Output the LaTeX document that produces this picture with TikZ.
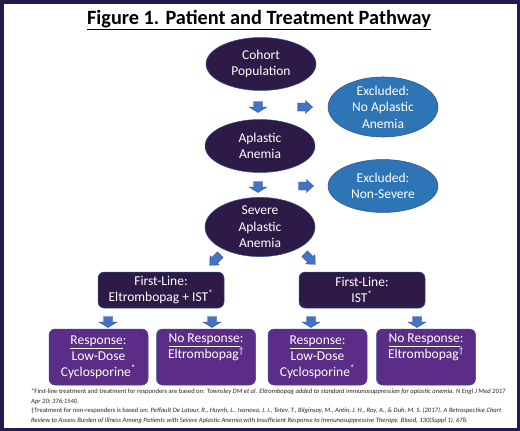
\documentclass[tikz,border=0pt]{standalone}
\usepackage{fontspec}
\setmainfont{Carlito}
\usetikzlibrary{shapes.geometric}

\definecolor{framenavy}{HTML}{221C4E}
\definecolor{darkplum}{HTML}{2E1A47}
\definecolor{midblue}{HTML}{2E75B6}
\definecolor{boxpurple}{HTML}{5B2D86}
\definecolor{arrowblue}{HTML}{4472C4}
\definecolor{edgeblue}{HTML}{2F528F}

\tikzset{
  stage/.style={ellipse, fill=darkplum, draw=edgeblue, line width=0.5pt, text=white,
    minimum width=110, minimum height=53, inner sep=0pt, align=center,
    font=\fontsize{13.5}{16.5}\selectfont},
  excluded/.style={stage, fill=midblue},
  linebox/.style={rectangle, rounded corners=6pt, fill=darkplum, draw=edgeblue, line width=0.5pt,
    text=white, minimum width=126, minimum height=36, inner sep=0pt, align=center,
    font=\fontsize{13.5}{15.5}\selectfont},
  outcome/.style={linebox, fill=boxpurple, minimum width=99, minimum height=56,
    font=\fontsize{13.5}{16}\selectfont},
  downarr/.pic={\fill[arrowblue, draw=edgeblue, line width=0.4pt]
    (-4.5,-5.5) -- (4.5,-5.5) -- (4.5,0) -- (9,0) -- (0,5.5) -- (-9,0) -- (-4.5,0) -- cycle;},
  sidearr/.pic={\fill[arrowblue, draw=edgeblue, line width=0.4pt]
    (-7.5,-4) -- (0.5,-4) -- (0.5,-6.5) -- (7.5,0) -- (0.5,6.5) -- (0.5,4) -- (-7.5,4) -- cycle;}
}

\begin{document}
\begin{tikzpicture}[x=1pt, y=-1pt]
\useasboundingbox (0,0) rectangle (520,431);
\fill[white] (0,0) rectangle (520,431);
\draw[framenavy, line width=3.5pt] (1.75,1.75) rectangle (518.25,429.25);

\node (title) at (259,20) {\fontsize{20.3}{24}\selectfont\bfseries\underline{Figure 1. Patient and Treatment Pathway}};

% pathway
\node[stage] (cohort) at (261,64) {Cohort\\Population};
\node[excluded] (noaa) at (383,107) {Excluded:\\No Aplastic\\Anemia};
\node[stage] (aa) at (260,146) {Aplastic\\Anemia};
\node[excluded] (nonsev) at (383,186) {Excluded:\\Non-Severe};
\node[stage] (saa) at (260,227) {Severe\\Aplastic\\Anemia};

\pic at (258,107) {downarr};
\pic at (305,107) {sidearr};
\pic at (258,187) {downarr};
\pic at (306,186) {sidearr};
\pic[rotate=-135] at (215,260) {sidearr};
\pic[rotate=-45] at (310,259) {sidearr};

% treatment
\node[linebox] (eltist) at (161,290) {First-Line:\\Eltrombopag + IST\textsuperscript{*}};
\node[linebox] (ist) at (362,290) {First-Line:\\IST\textsuperscript{*}};

\pic at (108,322) {downarr};
\pic at (212,322) {downarr};
\pic at (311,322) {downarr};
\pic at (417,322) {downarr};

\node[outcome] (resp1) at (98.5,357) {\underline{Response}:\\Low-Dose\\Cyclosporine\textsuperscript{*}};
\node[outcome] (nores1) at (206,357) {\underline{No Response}:\\Eltrombopag\textsuperscript{\textdagger}\\\strut};
\node[outcome] (resp2) at (317.5,357) {\underline{Response}:\\Low-Dose\\Cyclosporine\textsuperscript{*}};
\node[outcome] (nores2) at (426,357) {\underline{No Response}:\\Eltrombopag\textsuperscript{\textdagger}\\\strut};

% footnotes
\node[anchor=north west, inner sep=0pt, align=left, text=black!85,
  font=\fontsize{6.6}{9.7}\selectfont] (notes) at (31,388.5)
{*First-line treatment and treatment for responders are based on: \textit{Townsley DM et al. Eltrombopag added to standard immunosuppression for aplastic anemia. N Engl J Med 2017}\\
\textit{Apr 20; 376:1540.}\\
\textdagger Treatment for non-responders is based on: \textit{Peffault De Latour, R., Huynh, L., Ivanova, J. I., Totev, T., Bilginsoy, M., Antin, J. H., Roy, A., \& Duh, M. S. (2017). A Retrospective Chart}\\
\textit{Review to Assess Burden of Illness Among Patients with Severe Aplastic Anemia with Insufficient Response to Immunosuppressive Therapy. Blood, 130(Suppl 1), 678.}};
\end{tikzpicture}
\end{document}
